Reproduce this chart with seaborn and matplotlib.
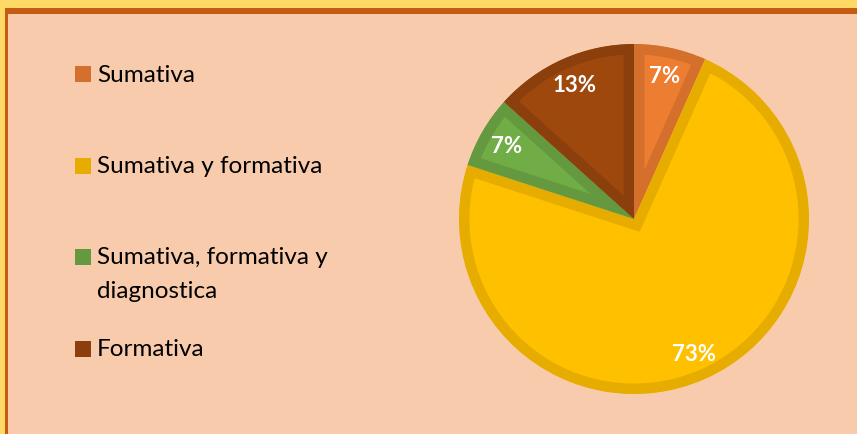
"""Pie chart of evaluation types, recreated with seaborn/matplotlib"""
import matplotlib
matplotlib.use("Agg")
import matplotlib.pyplot as plt
from matplotlib.patches import Rectangle
import seaborn as sns

# data
categories = ["Sumativa", "Sumativa y formativa",
              "Sumativa, formativa y\ndiagnostica", "Formativa"]
counts = [1, 11, 1, 2]
fill_colors = ["#ED7D31", "#FFC000", "#70AD47", "#9E480E"]
edge_colors = ["#D5702C", "#E6AD00", "#64993F", "#8B3F0C"]

sns.set_theme(style="white")
plt.rcParams["font.family"] = ["Lato", "DejaVu Sans"]

W, H = 857, 435
fig = plt.figure(figsize=(W / 100, H / 100), dpi=100, facecolor="#FFD966")

# frame: orange border then peach panel (behind the axes)
fig.patches.append(Rectangle((5 / W, 0), 1, (H - 9) / H, transform=fig.transFigure,
                             facecolor="#C55A11", edgecolor="none", zorder=-2))
fig.patches.append(Rectangle((8 / W, 0), 1, (H - 15) / H, transform=fig.transFigure,
                             facecolor="#F8CBAD", edgecolor="none", zorder=-1))

# pie axes, center (634, 220) radius 175 px
cx, cy, r = 634, 220, 175
ax = fig.add_axes([(cx - r) / W, (H - cy - r) / H, 2 * r / W, 2 * r / H])
ax.set_facecolor("none")
wedges, texts, autotexts = ax.pie(
    counts, colors=fill_colors, startangle=90, counterclock=False,
    autopct=lambda p: f"{p:.0f}%", pctdistance=0.84,
    textprops=dict(color="white", fontsize=16, fontweight="bold"))
for w, ec in zip(wedges, edge_colors):
    # inner stroke: thick edge clipped to the wedge itself
    w.set_edgecolor(ec)
    w.set_linewidth(15)
    w.set_clip_on(True)
    w.set_clip_path(w)
ax.set_xlim(-1, 1)
ax.set_ylim(-1, 1)
ax.set_aspect("equal")
ax.axis("off")

# legend drawn by hand to keep the wide spacing
legend_y = [75, 167, 258, 350]
for label, col, y in zip(categories, edge_colors, legend_y):
    fig.patches.append(Rectangle((75 / W, (H - y - 8) / H), 16 / W, 16 / H,
                                 transform=fig.transFigure, facecolor=col,
                                 edgecolor="none"))
    for i, line in enumerate(label.split("\n")):
        fig.text(97 / W, (H - y - i * 33) / H, line, fontsize=17.5,
                 color="black", va="center", ha="left")

fig.savefig("out.png", dpi=100, facecolor=fig.get_facecolor())
